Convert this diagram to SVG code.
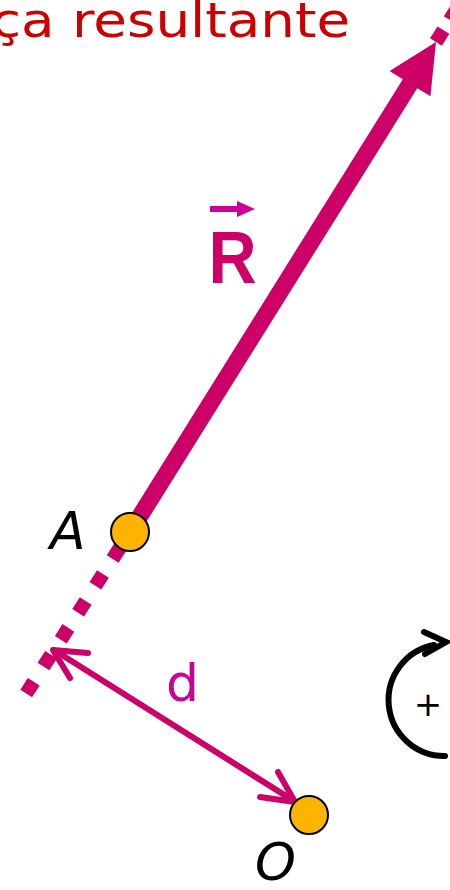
<svg xmlns="http://www.w3.org/2000/svg" width="450" height="890" viewBox="0 0 450 890">
<defs>
<style>
.mag{stroke:#cc0066;fill:none}
.dash{stroke:#cc0066;stroke-width:14;fill:none;stroke-dasharray:14 18}
.pt{fill:#ffb400;stroke:#000;stroke-width:2}
.lbl{font-family:"DejaVu Sans",sans-serif;font-style:oblique;font-size:52px;fill:#000}
</style>
</defs>
<rect width="450" height="890" fill="#fff"/>
<g id="title">
<text transform="translate(-9,37) scale(1.14,1)" x="0" y="0" font-family="DejaVu Sans, sans-serif" font-size="48" fill="#cc0000">ça resultante</text>
</g>
<g id="connectors">
<path class="dash" d="M130,532 L22,700" stroke-dashoffset="14"/>
<path d="M436,42 L461,2" stroke="#cc0066" stroke-width="14" fill="none" stroke-dasharray="14 12"/>
<line class="mag" x1="130" y1="532" x2="413" y2="79" stroke-width="17"/>
<polygon points="436,42 389.6,70.9 430.4,96.3" fill="#cc0066"/>
<g id="d-arrow" class="mag" stroke-width="6" stroke-linecap="round" stroke-linejoin="round">
<line x1="54" y1="650" x2="294" y2="801"/>
<polyline points="88,653 53,650 70,678"/>
<polyline points="260,797 295,802 278,772"/>
</g>
</g>
<g id="R-label">
<text transform="translate(213,283) scale(0.9,1)" x="-5" y="0" font-family="Liberation Sans, sans-serif" font-weight="bold" font-size="74" fill="#cc0066">R</text>
<line x1="210" y1="209" x2="242" y2="209" stroke="#cc0099" stroke-width="6"/>
<polygon points="237,201 255,209 237,217" fill="#cc0099"/>
</g>
<g id="d-label">
<text x="166" y="701" font-family="DejaVu Sans, sans-serif" font-size="52" fill="#cc0099">d</text>
</g>
<g id="node-A">
<circle class="pt" cx="130" cy="532" r="19"/>
<text class="lbl" x="50" y="549">A</text>
</g>
<g id="node-O">
<circle class="pt" cx="309" cy="815" r="19"/>
<text class="lbl" x="255" y="880">O</text>
</g>
<g id="rotation">
<path d="M445,756 A56 56 0 0 1 434,645" fill="none" stroke="#000" stroke-width="6" stroke-linecap="round"/>
<polyline points="424,632 446,642 425,654" fill="none" stroke="#000" stroke-width="6" stroke-linecap="round" stroke-linejoin="miter"/>
<text x="428" y="716" text-anchor="middle" font-family="DejaVu Sans, sans-serif" font-size="34" fill="#000">+</text>
</g>
</svg>
